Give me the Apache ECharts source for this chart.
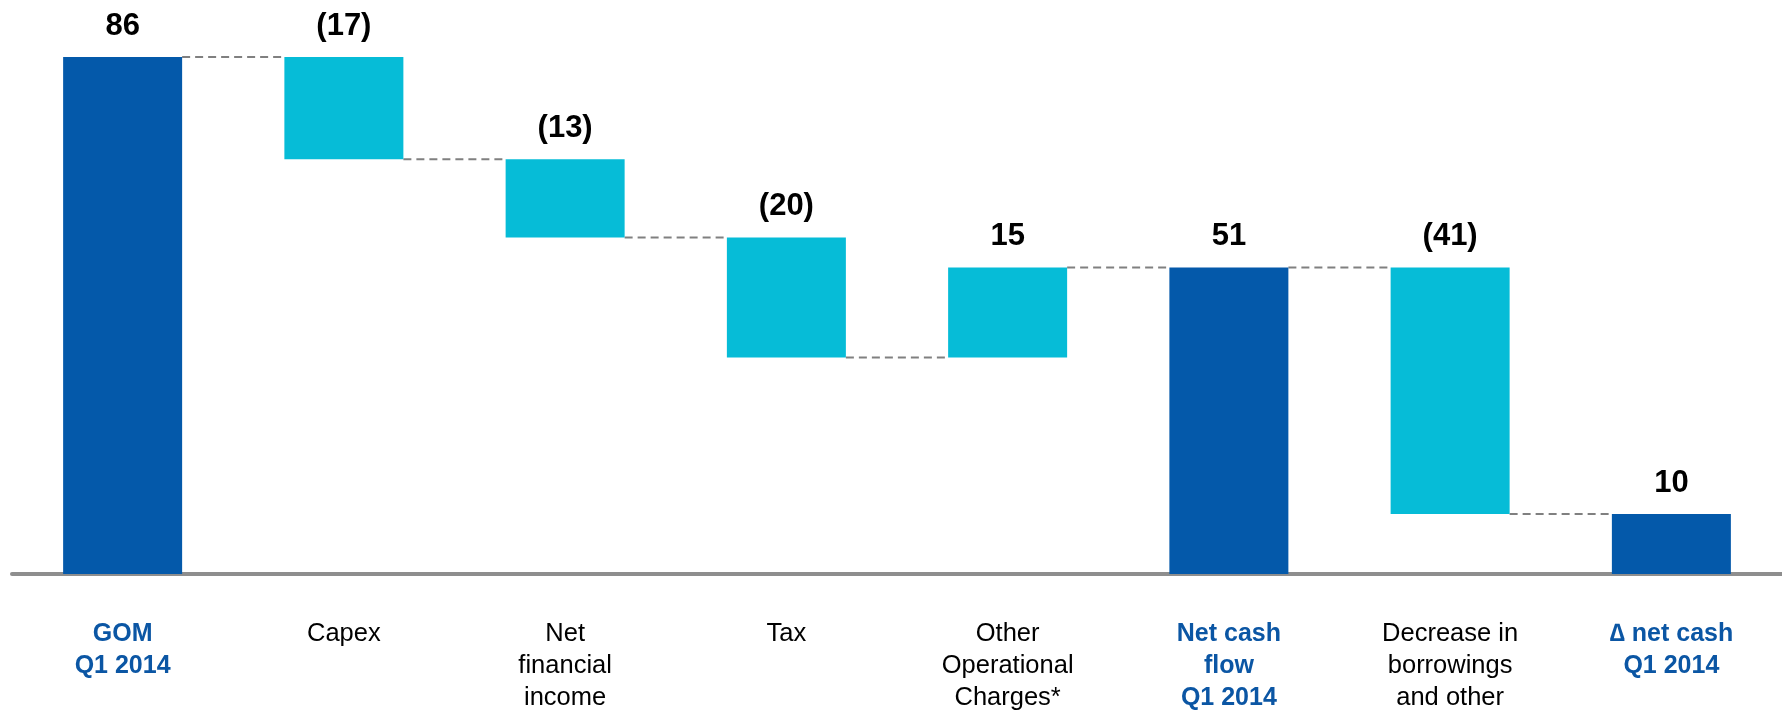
<!DOCTYPE html>
<html>
<head>
<meta charset="utf-8">
<script src="https://cdn.jsdelivr.net/npm/echarts@6/dist/echarts.min.js"></script>
<style>html,body{margin:0;padding:0;background:#fff;}#c{width:1782px;height:711px;}</style>
</head>
<body>
<div id="c"></div>
<script>
const categories = ['GOM\nQ1 2014', 'Capex', 'Net\nfinancial\nincome', 'Tax', 'Other\nOperational\nCharges*', 'Net cash\nflow\nQ1 2014', 'Decrease in\nborrowings\nand other', '\u2206 net cash\nQ1 2014'];
const values = [86, -17, -13, -20, 15, 51, -41, 10];
const isTotal = [true, false, false, false, false, true, false, true];

const BAR_W = 119;
const DARK = '#0459AA';
const CYAN = '#06BCD7';

const baseData = [];
const barData = [];
const levels = [];
let run = 0;
values.forEach((v, i) => {
  if (isTotal[i]) {
    baseData.push(0);
    barData.push({ value: v, itemStyle: { color: DARK } });
    run = v;
  } else {
    const start = run, end = run + v;
    baseData.push(Math.min(start, end));
    barData.push({ value: Math.abs(v), itemStyle: { color: CYAN } });
    run = end;
  }
  levels.push(run);
});
const connectorData = [];
for (let i = 0; i < values.length - 1; i++) connectorData.push([i, levels[i]]);

const chart = echarts.init(document.getElementById('c'), null, { renderer: 'canvas' });
chart.setOption({
  animation: false,
  backgroundColor: '#fff',
  grid: { left: 12, right: 0, top: 33, bottom: 137, containLabel: false },
  xAxis: {
    type: 'category',
    data: categories,
    axisTick: { show: false },
    axisLine: { lineStyle: { color: '#8e8e8e', width: 4 } },
    axisLabel: {
      interval: 0,
      margin: 44,
      formatter: (val, idx) => val.split('\n').map(l => '{' + (isTotal[idx] ? 't' : 'n') + '|' + l + '}').join('\n'),
      rich: {
        t: { fontFamily: 'Liberation Sans, Arial, sans-serif', fontSize: 25, fontWeight: 'bold', color: '#0B56A4', lineHeight: 32 },
        n: { fontFamily: 'Liberation Sans, Arial, sans-serif', fontSize: 25.5, color: '#000', lineHeight: 32 }
      }
    }
  },
  yAxis: { type: 'value', min: 0, max: 90, show: false, splitLine: { show: false } },
  series: [
    {
      type: 'bar', stack: 'w', barWidth: BAR_W, data: baseData,
      itemStyle: { color: 'transparent' }, silent: true
    },
    {
      type: 'bar', stack: 'w', barWidth: BAR_W, data: barData,
      label: {
        show: true, position: 'top', distance: 15,
        fontFamily: 'Liberation Sans, Arial, sans-serif', fontSize: 31, fontWeight: 'bold', color: '#000',
        formatter: p => { const v = values[p.dataIndex]; return v < 0 ? '(' + Math.abs(v) + ')' : String(v); }
      }
    },
    {
      type: 'custom', data: connectorData, z: 1,
      renderItem: (params, api) => {
        const i = api.value(0), lvl = api.value(1);
        const p1 = api.coord([i, lvl]);
        const p2 = api.coord([i + 1, lvl]);
        return {
          type: 'line',
          shape: { x1: p1[0] + BAR_W / 2, y1: p1[1], x2: p2[0] - BAR_W / 2, y2: p2[1] },
          style: { stroke: '#808080', lineWidth: 2, lineDash: [8, 5] }
        };
      }
    }
  ]
});
</script>
</body>
</html>
